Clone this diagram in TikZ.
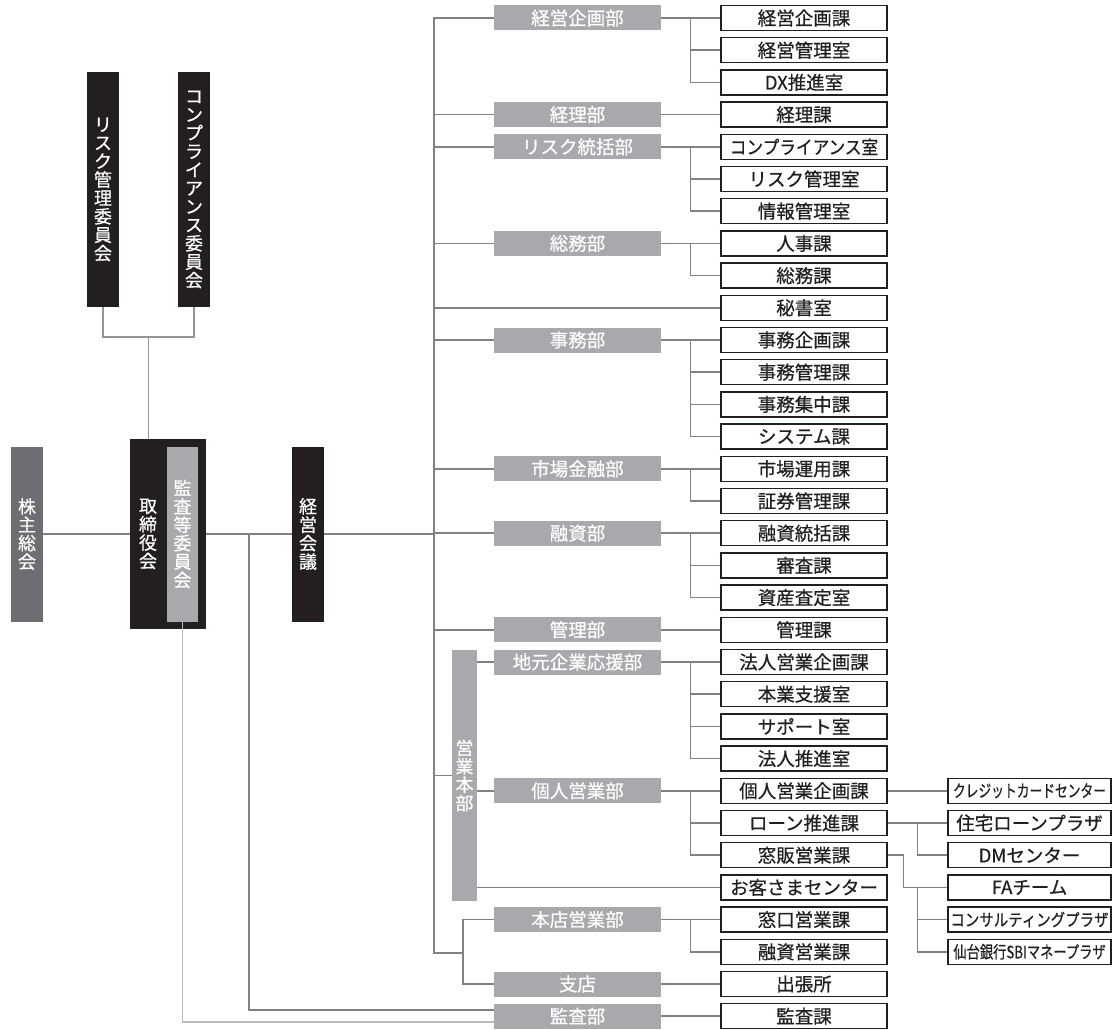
\documentclass[tikz,border=0pt]{standalone}
\usepackage{fontspec}
\usepackage{graphicx}
\newfontfamily\jp[FakeBold=0.6]{Noto Sans CJK JP}
\usetikzlibrary{positioning}
\definecolor{ink}{HTML}{231F20}
\definecolor{darkbox}{HTML}{6D6E71}
\definecolor{lightbox}{HTML}{A7A9AC}
\definecolor{wire}{HTML}{808285}
\definecolor{comwire}{HTML}{939598}
\definecolor{palewire}{HTML}{B8BABD}
\newcommand\slimtext[2][0.75]{\scalebox{#1}[1]{#2}}

\begin{document}
\begin{tikzpicture}[x=1pt, y=-1pt,
    every node/.style={inner sep=0pt, font=\jp\fontsize{18.5}{18.4}\selectfont},
    link/.style={wire, line width=1.6pt},
    bu/.style={fill=lightbox, text=white, minimum width=167pt, minimum height=25pt},
    ka/.style={draw=ink, line width=1.3pt, fill=white, text=ink, minimum width=166pt, minimum height=25pt},
    ko/.style={draw=ink, line width=1.3pt, fill=white, text=ink, minimum width=163pt, minimum height=25pt},
    tate/.style={fill=#1, text=white, align=center, font=\jp\fontsize{18}{18.4}\selectfont}]
    \useasboundingbox (0,0) rectangle (1114,1030);

    % left side
    \node[tate=ink, minimum width=32pt, minimum height=235pt] (riskc) at (103,189.5) {リ\\ス\\ク\\管\\理\\委\\員\\会};
    \node[tate=ink, minimum width=32pt, minimum height=235pt] (compc) at (194,189.5) {コ\\ン\\プ\\ラ\\イ\\ア\\ン\\ス\\委\\員\\会};
    \node[tate=darkbox, minimum width=32pt, minimum height=175pt] (kabu) at (27,534) {株\\主\\総\\会};
    \node[fill=ink, minimum width=76pt, minimum height=190pt] (tori) at (168,534) {};
    \node[tate=ink] (toriT) at (148,534) {取\\締\\役\\会};
    \node[tate=lightbox, minimum width=31pt, minimum height=175pt] (kansaI) at (182.5,534) {監\\査\\等\\委\\員\\会};
    \node[tate=ink, minimum width=32pt, minimum height=175pt] (keiei) at (308,534) {経\\営\\会\\議};
    \node[tate=lightbox, minimum width=25pt, minimum height=251pt] (eigyo) at (464.5,775.5) {営\\業\\本\\部};

    % sections
    \foreach \t [count=\i] in {経営企画課, 経営管理室, DX推進室, 経理課, \slimtext[0.9]{コンプライアンス室},
        リスク管理室, 情報管理室, 人事課, 総務課, 秘書室, 事務企画課, 事務管理課, 事務集中課, システム課,
        市場運用課, 証券管理課, 融資統括課, 審査課, 資産査定室, 管理課, 法人営業企画課, 本業支援室,
        サポート室, 法人推進室, 個人営業企画課, ローン推進課, 窓販営業課, お客さまセンター,
        窓口営業課, 融資営業課, 出張所, 監査課}
        \node[ka] (s\i) at (804, {18+32.2*(\i-1)}) {\t};

    % departments
    \foreach \t/\r/\n in {経営企画部/1/keiki, 経理部/4/keiri, リスク統括部/5/risk, 総務部/8/somu,
        事務部/11/jimu, 市場金融部/15/shijo, 融資部/17/yushi, 管理部/20/kanri, 地元企業応援部/21/jimoto,
        個人営業部/25/kojin, 本店営業部/29/honten, 支店/31/shiten, 監査部/32/kansa}
        \node[bu] (d\n) at (577.5, {18+32.2*(\r-1)}) {\t};

    % third column
    \foreach \t [count=\i] in {{\fontsize{17}{17}\selectfont\slimtext{クレジットカードセンター}}, 住宅ローンプラザ,
        DMセンター, FAチーム, {\fontsize{17}{17}\selectfont\slimtext[0.85]{コンサルティングプラザ}},
        {\fontsize{17}{17}\selectfont\slimtext[0.78]{仙台銀行SBIマネープラザ}}}
        \node[ko] (c\i) at (1029.5, {18+32.2*(\i+23)}) {\t};

    \coordinate (t) at (434,534);
    \coordinate (t2) at (249,534);
    \coordinate (hs) at (463,953);
    \coordinate (cm) at (148.5,337);

    % trunk
    \draw[link] (kabu) -- (tori);
    \draw[link] (tori) -- (keiei);
    \draw[link] (keiei.east) -- (t);
    \foreach \d in {keiki, keiri, risk, somu, jimu, shijo, yushi, kanri}
        \draw[link] (d\d.west) -| (t);
    \draw[link] (s10.west) -| (t);
    \draw[link] (eigyo.west) -| (t);
    \draw[link] (hs) -| (t);
    \draw[link] (dhonten.west) -| (hs) |- (dshiten.west);
    \foreach \d in {jimoto, kojin}
        \draw[link] (d\d.west) -- (d\d.west -| eigyo.east);
    \draw[link] (s28.west) -- (s28.west -| eigyo.east);

    % audit lines
    \draw[link] ([yshift=6pt]dkansa.west) -| (t2);
    \draw[link, palewire] ([yshift=-6pt]dkansa.west) -| (kansaI.south);

    % committees
    \draw[link, comwire] (riskc.south) |- (cm) -| (compc.south);
    \draw[link, comwire] (cm) -- (cm |- tori.north);

    % departments to sections
    \foreach \d/\a/\b in {keiki/1/3, keiri/4/4, risk/5/7, somu/8/9, jimu/11/14, shijo/15/16, yushi/17/19,
        kanri/20/20, jimoto/21/24, kojin/25/27, honten/29/30, shiten/31/31, kansa/32/32} {
        \draw[link] (d\d.east) -- (s\a.west);
        \foreach \k in {\a,...,\b}
            \draw[link] ([xshift=-30pt]s\a.west) |- (s\k.west);
    }

    % sections to third column
    \draw[link] (s25.east) -- (c1.west);
    \draw[link] (s26.east) -- (c2.west);
    \draw[link] ([xshift=-30pt]c2.west) |- (c3.west);
    \draw[link] (s27.east) -- ++(16,0) |- (c4.west);
    \foreach \k in {5,6}
        \draw[link] ([xshift=-30pt]c4.west) |- (c\k.west);
\end{tikzpicture}
\end{document}
